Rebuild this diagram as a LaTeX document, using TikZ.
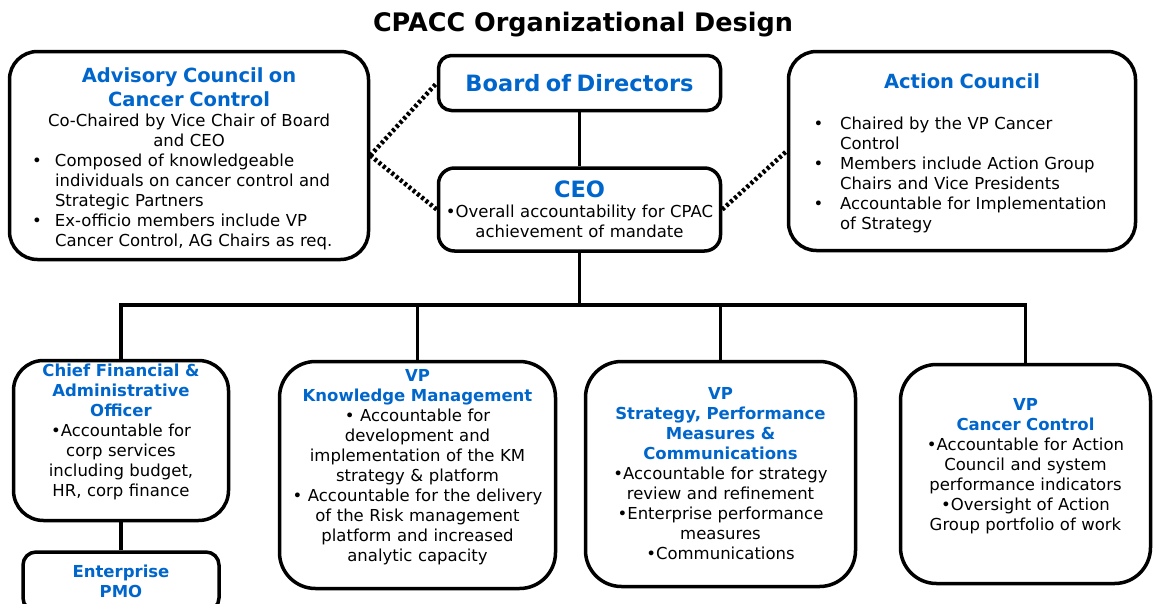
\documentclass[tikz,border=0pt]{standalone}
\usepackage{fontspec}
\setmainfont{DejaVu Sans}
\usepackage{tikz}
\usetikzlibrary{positioning}
\definecolor{cpblue}{RGB}{0,102,204}
\newcommand{\bodyfont}{\fontsize{16.5}{20}\selectfont}
\newcommand{\headfont}{\fontsize{16.5}{20}\selectfont\bfseries\color{cpblue}}
\newcommand{\councilfont}{\fontsize{19.5}{24}\selectfont\bfseries\color{cpblue}}
\newcommand{\topfont}{\fontsize{22.5}{26}\selectfont\bfseries\color{cpblue}}
\newcommand{\bitem}[2]{\par\leftskip=0pt\rightskip=0pt plus 1fil\parfillskip=0pt plus 1fil\noindent\hangindent=#1\hangafter=1\makebox[#1][c]{\textbullet}#2\par}
\tikzstyle{council} = [rectangle, rounded corners=28pt, draw=black, line width=3.5pt, inner sep=0pt, text centered, font=\bodyfont]
\tikzstyle{office} = [rectangle, rounded corners=13pt, draw=black, line width=3.5pt, inner sep=0pt, text centered, font=\bodyfont]
\tikzstyle{unit} = [rectangle, rounded corners=36pt, draw=black, line width=3.5pt, inner sep=0pt, text centered, font=\bodyfont]
\tikzstyle{link} = [line width=3.5pt]
\tikzstyle{dotlink} = [line width=4.5pt, dash pattern=on 3pt off 2.5pt]

\begin{document}
\begin{tikzpicture}[x=1pt, y=-1pt]
\clip (0,0) rectangle (1154,603);
% Nodes
\node (title) at (583,25) {\fontsize{25.5}{30}\selectfont\bfseries CPACC Organizational Design};
\node (adv) [council, minimum width=359pt, minimum height=208pt, text width=340pt] at (189,155.5) {{\councilfont\rule{0pt}{21pt}Advisory Council on\\Cancer Control\par}Co-Chaired by Vice Chair of Board\\and CEO\par\bitem{36pt}{Composed of knowledgeable\newline individuals on cancer control and\newline Strategic Partners}\bitem{36pt}{Ex-officio members include VP\newline Cancer Control, AG Chairs as req.}};
\node (board) [office, minimum width=282pt, minimum height=55pt, text width=275pt] at (579.5,83) {\topfont Board of Directors};
\node (ceo) [office, rounded corners=16pt, minimum width=282pt, minimum height=83pt, text width=275pt, below=54pt of board] {{\topfont CEO}\\•Overall accountability for CPAC\\achievement of mandate};
\node (action) [council, minimum width=347pt, minimum height=199pt, text width=330pt] at (962,151) {{\councilfont\rule{0pt}{20pt}Action Council\par}\vspace{21pt}\bitem{43pt}{Chaired by the VP Cancer\newline Control}\bitem{43pt}{Members include Action Group\newline Chairs and Vice Presidents}\bitem{43pt}{Accountable for Implementation\newline of Strategy}};
\node (cfo) [unit, rounded corners=30pt, minimum width=215pt, minimum height=160pt, text width=205pt] at (121,440.5) {{\headfont Chief Financial \&\\Administrative\\Officer}\\•Accountable for\\corp services\\including budget,\\HR, corp finance\\\mbox{}};
\node (pmo) [office, minimum width=196pt, minimum height=59pt, text width=190pt, below=28pt of cfo] {{\headfont Enterprise\\PMO}};
\node (km) [unit, minimum width=276pt, minimum height=227pt, text width=270pt] at (417.5,475) {{\headfont VP\\Knowledge Management}\\• Accountable for\\development and\\implementation of the KM\\strategy \& platform\\• Accountable for the delivery\\of the Risk management\\platform and increased\\analytic capacity\\\mbox{}};
\node (strat) [unit, minimum width=270pt, minimum height=225pt, text width=265pt] at (720.5,474) {{\headfont VP\\Strategy, Performance\\Measures \&\\Communications}\\•Accountable for strategy\\review and refinement\\•Enterprise performance\\measures\\•Communications};
\node (cancer) [unit, minimum width=250pt, minimum height=219pt, text width=245pt] at (1025.5,474) {{\headfont VP\\Cancer Control}\\•Accountable for Action\\Council and system\\performance indicators\\•Oversight of Action\\Group portfolio of work\\\mbox{}};

% Lines
\coordinate (bus) at (579.5,305);
\draw [link] (board) -- (ceo);
\draw [link] (ceo) -- (bus);
\draw [link] (cfo.north) |- (bus) -| (cancer.north);
\draw [link] (km.north) -- (km.north |- bus);
\draw [link] (strat.north) -- (strat.north |- bus);
\draw [link] (cfo) -- (pmo);
\draw [dotlink] (adv.east) -- (board.west);
\draw [dotlink] (adv.east) -- (ceo.west);
\draw [dotlink] (ceo.east) -- (action.west);
\end{tikzpicture}
\end{document}
